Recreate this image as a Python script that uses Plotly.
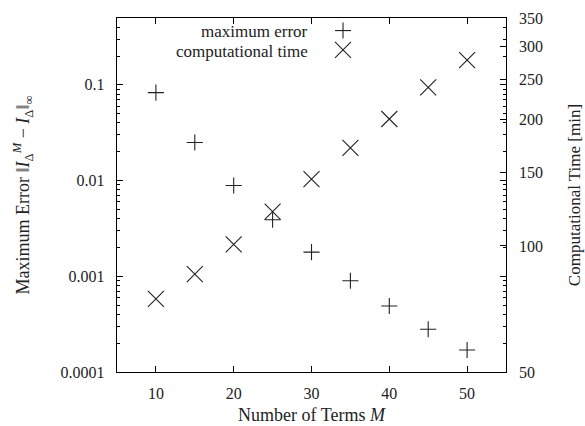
import plotly.graph_objects as go

# Data
terms_M = [10, 15, 20, 25, 30, 35, 40, 45, 50]
max_error = [0.083, 0.025, 0.0089, 0.0039, 0.00179, 0.00090, 0.00049, 0.00028, 0.00017]
comp_time = [74.7, 85.6, 100.8, 120.7, 144.4, 171.5, 200.9, 239.0, 277.7]

x_ticks = [10, 20, 30, 40, 50]
err_ticks = [0.0001, 0.001, 0.01, 0.1]
err_ticklabels = ["0.0001", "0.001", "0.01", "0.1"]
time_ticks = [50, 100, 150, 200, 250, 300, 350]

FONT = "Liberation Serif"
INK = "#222222"
TICK_SIZE = 16
TEXT_SIZE = 18

fig = go.Figure()
fig.add_trace(go.Scatter(
    x=terms_M, y=max_error, mode="markers", name="maximum error",
    marker=dict(symbol="cross-thin", size=11.5, line=dict(width=1.1, color=INK)),
    showlegend=False,
))
fig.add_trace(go.Scatter(
    x=terms_M, y=comp_time, mode="markers", name="computational time", yaxis="y2",
    marker=dict(symbol="x-thin", size=16, line=dict(width=1.1, color=INK)),
    showlegend=False,
))

minor_err = [m * 10 ** e for e in range(-4, 0) for m in range(2, 10) if m * 10 ** e <= 0.5]

fig.update_layout(
    width=585, height=426,
    margin=dict(l=117, r=79, t=18, b=54, autoexpand=False),
    paper_bgcolor="white", plot_bgcolor="white",
    font=dict(family=FONT, size=TEXT_SIZE, color=INK),
    xaxis=dict(
        range=[5, 55], tickvals=x_ticks, ticks="inside", ticklen=6, tickwidth=1,
        tickcolor="black", showline=True, linecolor="black", linewidth=1.3,
        mirror="ticks", showgrid=False, zeroline=False, ticklabelstandoff=6,
        title=dict(text="Number of Terms <i>M</i>", standoff=8, font=dict(size=TEXT_SIZE)),
        tickfont=dict(size=TICK_SIZE), automargin=False,
    ),
    yaxis=dict(
        type="log", range=[-4, -0.30103], tickvals=err_ticks, ticktext=err_ticklabels,
        ticks="inside", ticklen=6, tickwidth=1, tickcolor="black",
        minor=dict(tickvals=minor_err, ticks="inside", ticklen=3, tickcolor="black", showgrid=False),
        showline=True, linecolor="black", linewidth=1.3, mirror="ticks",
        showgrid=False, zeroline=False, ticklabelstandoff=8,
        title=dict(text="Maximum Error ‖<i>I</i><sub>Δ</sub><sup><i>M</i></sup> − <i>I</i><sub>Δ</sub>‖<sub>∞</sub>",
                   standoff=26, font=dict(size=TEXT_SIZE)),
        tickfont=dict(size=TICK_SIZE), automargin=False,
    ),
    yaxis2=dict(
        type="log", overlaying="y", side="right", range=[1.69897, 2.544068],
        tickvals=time_ticks, ticks="inside", ticklen=6, tickwidth=1, tickcolor="black",
        showline=False, showgrid=False, zeroline=False, ticklabelstandoff=12,
        title=dict(text="Computational Time [min]", standoff=26, font=dict(size=17)),
        tickfont=dict(size=TICK_SIZE), automargin=False,
    ),
    showlegend=False,
)

# Legend (text right-aligned, key symbol to the right)
legend_items = [("maximum error", 0.9605, "plus"), ("computational time", 0.906, "cross")]
for label, yp, kind in legend_items:
    fig.add_annotation(text=label, xref="paper", yref="paper", x=0.496, y=yp,
                       xanchor="right", yanchor="middle", showarrow=False,
                       font=dict(family=FONT, size=17, color=INK))
    if kind == "plus":
        segs = [(-8, 0, 8, 0), (0, -8, 0, 8)]
    else:
        segs = [(-8, -8, 8, 8), (-8, 8, 8, -8)]
    for x0, y0, x1, y1 in segs:
        fig.add_shape(type="line", xref="paper", yref="paper",
                      xsizemode="pixel", ysizemode="pixel",
                      xanchor=0.581, yanchor=yp + 0.004,
                      x0=x0, x1=x1, y0=y0, y1=y1,
                      line=dict(color=INK, width=1.1))

fig.write_html("out.html", config={"displayModeBar": False, "staticPlot": True},
               post_script="document.body.style.margin='0';document.body.style.overflow='hidden';")
